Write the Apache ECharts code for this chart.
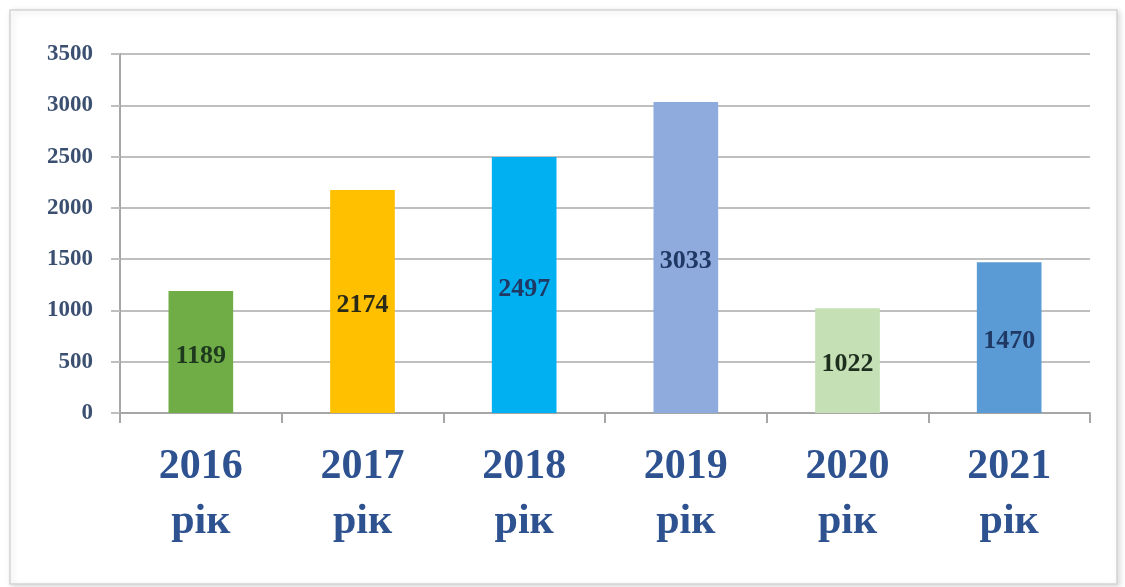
<!DOCTYPE html>
<html><head><meta charset="utf-8">
<script src="https://cdn.jsdelivr.net/npm/echarts@6/dist/echarts.min.js"></script>
<style>html,body{margin:0;padding:0;background:#fff}#c{width:1125px;height:587px}</style>
</head><body><div id="c"></div>
<script>
const categories = ['2016\nрік', '2017\nрік', '2018\nрік', '2019\nрік', '2020\nрік', '2021\nрік'];
const values = [1189, 2174, 2497, 3033, 1022, 1470];
const barColors = ['#70ad47', '#ffc000', '#00b0f0', '#8faadc', '#c5e0b4', '#5b9bd5'];
const labelColors = ['#1e3a1e', '#2a2a18', '#1f3864', '#1f3864', '#1e2e1e', '#1f3864'];

const chart = echarts.init(document.getElementById('c'), null, {renderer: 'canvas'});
chart.setOption({
  animation: false,
  backgroundColor: '#fff',
  graphic: [{
    type: 'rect', z: -10,
    shape: {x: 10, y: 10, width: 1107, height: 574},
    style: {fill: '#fff', stroke: '#d4d4d4', lineWidth: 1.5, shadowBlur: 6, shadowColor: 'rgba(0,0,0,0.15)', shadowOffsetX: 2, shadowOffsetY: 2}
  }],
  grid: {left: 120, right: 35, top: 54, bottom: 174},
  xAxis: {
    type: 'category',
    data: categories,
    axisLine: {lineStyle: {color: '#a6a6a6', width: 2}},
    axisTick: {show: true, length: 10, lineStyle: {color: '#a6a6a6', width: 2}},
    axisLabel: {
      margin: 27, fontFamily: 'Liberation Serif', fontWeight: 'bold', fontSize: 42,
      lineHeight: 55, color: '#2e5290'
    }
  },
  yAxis: {
    type: 'value', min: 0, max: 3500, interval: 500,
    axisLine: {show: true, lineStyle: {color: '#a6a6a6', width: 2}},
    axisTick: {show: true, length: 9, lineStyle: {color: '#bfbfbf', width: 2}},
    splitLine: {lineStyle: {color: '#bfbfbf', width: 2}},
    axisLabel: {margin: 27, fontFamily: 'Liberation Serif', fontWeight: 'bold', fontSize: 23, color: '#3b4f70',
      formatter: v => String(v)}
  },
  series: [{
    type: 'bar',
    barWidth: '40%',
    data: values.map((v, i) => ({
      value: v,
      itemStyle: {color: barColors[i]},
      label: {color: labelColors[i]}
    })),
    label: {
      show: true, position: 'inside', offset: [0, 4],
      fontFamily: 'Liberation Serif', fontWeight: 'bold', fontSize: 26
    }
  }]
});
</script></body></html>
